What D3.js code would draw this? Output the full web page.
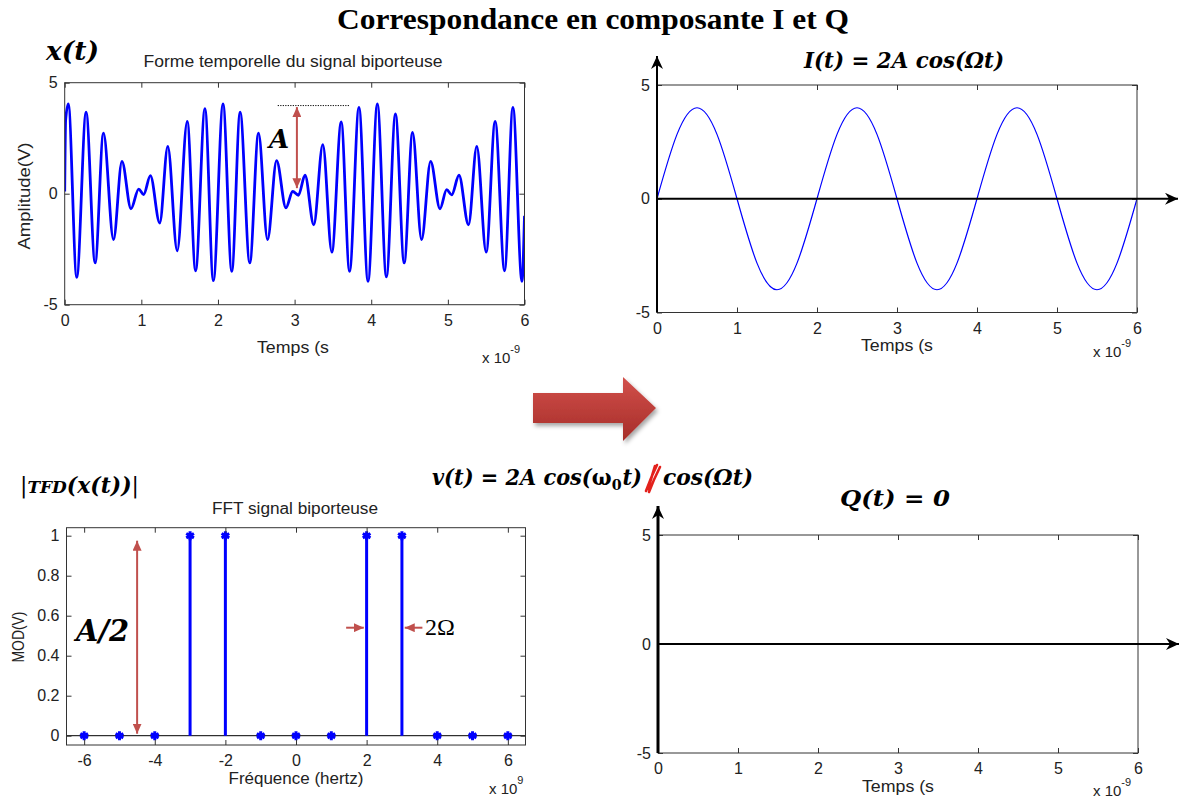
<!DOCTYPE html>
<html>
<head>
<meta charset="utf-8">
<script src="https://cdn.jsdelivr.net/npm/d3@7"></script>
<style>
  body { margin: 0; background: #fff; }
  .ml { font-family: "Liberation Sans", Arial, sans-serif; font-size: 16px; fill: #222; }
  .math { font-family: "DejaVu Serif", "Liberation Serif", serif; font-weight: bold; font-style: italic; fill: #000; }
</style>
</head>
<body>
<div id="graphic"></div>
<script>
// ---- data ----
// x(t): extrema of the two-carrier signal (time in ns, amplitude in V)
const xTime = [0, 0.012, 0.047, 0.157, 0.279, 0.397, 0.506, 0.637, 0.747, 0.865, 0.965, 1.03, 1.118, 1.24, 1.345, 1.468,
  1.599, 1.708, 1.83, 1.94, 2.066, 2.18, 2.289, 2.415, 2.529, 2.647, 2.765, 2.887, 2.975, 3.05, 3.136, 3.25, 3.368, 3.486,
  3.608, 3.717, 3.84, 3.958, 4.08, 4.198, 4.316, 4.43, 4.539, 4.657, 4.775, 4.897, 4.984, 5.05, 5.145, 5.269, 5.377, 5.5,
  5.617, 5.74, 5.849, 5.967, 6.0];
const xAmp = [0.1, 3.3, 4.04, -3.77, 3.67, -3.12, 2.73, -2.07, 1.46, -0.68, 0.21, -0.04, 0.81, -1.32, 2.13, -2.57,
  3.26, -3.47, 3.83, -3.92, 4.04, -3.5, 3.67, -3.12, 2.73, -2.07, 1.49, -0.64, 0.1, -0.07, 0.83, -1.4, 2.21, -2.63,
  3.23, -3.5, 3.89, -3.95, 4.04, -3.75, 3.59, -3.12, 2.76, -2.07, 1.46, -0.68, 0.18, -0.05, 0.83, -1.4, 2.13, -2.63,
  3.26, -3.47, 3.89, -3.95, -1.0];

// I(t): sampled every quarter of a period
const iTime = [0, 0.25, 0.5, 0.75, 1, 1.25, 1.5, 1.75, 2, 2.25, 2.5, 2.75, 3, 3.25, 3.5, 3.75, 4, 4.25, 4.5, 4.75, 5, 5.25, 5.5, 5.75, 6];
const iAmp = [0, 2.83, 4, 2.83, 0, -2.83, -4, -2.83, 0, 2.83, 4, 2.83, 0, -2.83, -4, -2.83, 0, 2.83, 4, 2.83, 0, -2.83, -4, -2.83, 0];

// Q(t)
const qTime = [0, 6];
const qAmp = [0, 0];

// FFT (frequency in GHz)
const fftFreq = [-6, -5, -4, -3, -2, -1, 0, 1, 2, 3, 4, 5, 6];
const fftMod = [0, 0, 0, 1, 1, 0, 0, 0, 1, 1, 0, 0, 0];

// ticks
const timeTicks = [0, 1, 2, 3, 4, 5, 6];
const ampTicks = [-5, 0, 5];
const freqTicks = [-6, -4, -2, 0, 2, 4, 6];
const modTicks = [0, 0.2, 0.4, 0.6, 0.8, 1];

const blue = '#0000ff';
const red = '#c0504d';

const svg = d3.select('#graphic').append('svg')
  .attr('width', 1186).attr('height', 800)
  .style('background', '#fff');
const defs = svg.append('defs');

// arrow heads
function marker(id, color, d, w, h) {
  defs.append('marker').attr('id', id)
    .attr('viewBox', `${-w} ${-h / 2} ${w + 1} ${h}`)
    .attr('refX', 0).attr('refY', 0)
    .attr('markerWidth', w + 1).attr('markerHeight', h)
    .attr('markerUnits', 'userSpaceOnUse')
    .attr('orient', 'auto-start-reverse')
    .append('path').attr('d', d).attr('fill', color);
}
marker('headBlack', '#000', 'M0,0 L-13,-6 L-9,0 L-13,6 Z', 13, 12);
marker('headRed', red, 'M0,0 L-10,-4.5 L-10,4.5 Z', 10, 9);

const grad = defs.append('linearGradient').attr('id', 'redGrad').attr('x1', 0).attr('y1', 0).attr('x2', 0).attr('y2', 1);
grad.append('stop').attr('offset', '0%').attr('stop-color', '#d2504b');
grad.append('stop').attr('offset', '100%').attr('stop-color', '#a62d29');
defs.append('filter').attr('id', 'shadow').attr('x', '-20%').attr('y', '-20%').attr('width', '150%').attr('height', '150%')
  .append('feDropShadow').attr('dx', 2).attr('dy', 3).attr('stdDeviation', 2).attr('flood-color', '#000').attr('flood-opacity', 0.35);

// MATLAB-like axes box with inward ticks on all sides
function drawPanel(p) {
  const x = d3.scaleLinear().domain(p.xDomain).range([p.left, p.right]);
  const y = d3.scaleLinear().domain(p.yDomain).range([p.bottom, p.top]);
  const clipId = 'clip-' + p.id;
  defs.append('clipPath').attr('id', clipId).append('rect')
    .attr('x', p.left).attr('y', p.top).attr('width', p.right - p.left).attr('height', p.bottom - p.top);
  const g = svg.append('g');
  const data = g.append('g').attr('clip-path', `url(#${clipId})`);
  const axes = g.append('g');

  axes.append('g').attr('transform', `translate(0,${p.bottom})`)
    .call(d3.axisBottom(x).tickValues(p.xTicks).tickSize(-5).tickPadding(10).tickFormat(d => String(d)));
  axes.append('g').attr('transform', `translate(0,${p.top})`)
    .call(d3.axisTop(x).tickValues(p.xTicks).tickSize(-5).tickFormat(''));
  axes.append('g').attr('transform', `translate(${p.left},0)`)
    .call(d3.axisLeft(y).tickValues(p.yTicks).tickSize(-5).tickPadding(7).tickFormat(d => String(d)));
  axes.append('g').attr('transform', `translate(${p.right},0)`)
    .call(d3.axisRight(y).tickValues(p.yTicks).tickSize(-5).tickFormat(''));
  axes.selectAll('.domain').remove();
  axes.selectAll('line').attr('stroke', '#333');
  axes.selectAll('text').attr('class', 'ml').attr('fill', null);
  axes.selectAll('g').attr('font-family', null).attr('font-size', null);

  axes.append('rect')
    .attr('x', p.left).attr('y', p.top)
    .attr('width', p.right - p.left).attr('height', p.bottom - p.top)
    .attr('fill', 'none').attr('stroke', '#333').attr('stroke-width', 1);
  return { x, y, data, axes };
}

function xLabel(text, x, y, len) {
  svg.append('text').attr('class', 'ml').attr('x', x).attr('y', y).attr('text-anchor', 'middle')
    .attr('textLength', len).attr('lengthAdjust', 'spacingAndGlyphs').text(text);
}
function yLabel(text, x, y, len) {
  svg.append('text').attr('class', 'ml').attr('text-anchor', 'middle')
    .attr('textLength', len).attr('lengthAdjust', 'spacingAndGlyphs')
    .attr('transform', `translate(${x},${y}) rotate(-90)`).text(text);
}
function exponent(exp, x, y) {
  const t = svg.append('text').attr('class', 'ml').attr('x', x).attr('y', y).style('font-size', '15px');
  t.append('tspan').text('x 10');
  t.append('tspan').attr('dy', -10).style('font-size', '11px').text(exp);
}

// ---------- top-left: x(t) ----------
const pX = drawPanel({ id: 'x', left: 64.7, right: 524.5, top: 82.7, bottom: 304.7,
  xDomain: [0, 6], yDomain: [-5, 5], xTicks: timeTicks, yTicks: ampTicks });
const xPts = xTime.map((t, i) => [t, xAmp[i]]);
pX.data.append('path')
  .attr('d', d3.line().x(d => pX.x(d[0])).y(d => pX.y(d[1])).curve(d3.curveMonotoneX)(xPts))
  .attr('fill', 'none').attr('stroke', blue).attr('stroke-width', 2.8).attr('stroke-linejoin', 'round');
xLabel('Forme temporelle du signal biporteuse', 293, 67, 299);
yLabel('Amplitude(V)', 30, 196, 107);
xLabel('Temps (s', 293, 353, 72);
exponent('-9', 482, 363);

// ---------- top-right: I(t) ----------
const pI = drawPanel({ id: 'i', left: 657, right: 1137, top: 85, bottom: 312.5,
  xDomain: [0, 6], yDomain: [-5, 5], xTicks: timeTicks, yTicks: ampTicks });
const iPts = iTime.map((t, i) => [t, iAmp[i]]);
pI.data.append('path')
  .attr('d', d3.line().x(d => pI.x(d[0])).y(d => pI.y(d[1])).curve(d3.curveNatural)(iPts))
  .attr('fill', 'none').attr('stroke', blue).attr('stroke-width', 1.2);
xLabel('Temps (s', 897, 351, 72);
exponent('-9', 1093, 357);

// ---------- bottom-left: FFT ----------
const pF = drawPanel({ id: 'f', left: 66.5, right: 525.5, top: 527.7, bottom: 745,
  xDomain: [-6.5, 6.5], yDomain: [-0.0465, 1.04], xTicks: freqTicks, yTicks: modTicks });
pF.data.append('line')
  .attr('x1', pF.x.range()[0]).attr('x2', pF.x.range()[1])
  .attr('y1', pF.y(0)).attr('y2', pF.y(0))
  .attr('stroke', '#000').attr('stroke-width', 1);
const fPts = fftFreq.map((f, i) => ({ f, m: fftMod[i] }));
pF.data.selectAll('line.stem').data(fPts.filter(d => d.m > 0)).join('line').attr('class', 'stem')
  .attr('x1', d => pF.x(d.f)).attr('x2', d => pF.x(d.f))
  .attr('y1', pF.y(0)).attr('y2', d => pF.y(d.m))
  .attr('stroke', blue).attr('stroke-width', 3);
pF.data.selectAll('path.mk').data(fPts).join('path').attr('class', 'mk')
  .attr('transform', d => `translate(${pF.x(d.f)},${pF.y(d.m)})`)
  .attr('d', d3.symbol(d3.symbolAsterisk, 55))
  .attr('fill', 'none').attr('stroke', blue).attr('stroke-width', 3);
pF.axes.raise();
xLabel('FFT signal biporteuse', 295, 514, 166);
yLabel('MOD(V)', 24, 637, 51);
xLabel('Fréquence (hertz)', 296, 784, 135);
exponent('9', 489, 794);

// ---------- bottom-right: Q(t) ----------
const pQ = drawPanel({ id: 'q', left: 658, right: 1138, top: 535, bottom: 753,
  xDomain: [0, 6], yDomain: [-5, 5], xTicks: timeTicks, yTicks: ampTicks });
const qPts = qTime.map((t, i) => [t, qAmp[i]]);
pQ.data.append('path')
  .attr('d', d3.line().x(d => pQ.x(d[0])).y(d => pQ.y(d[1]))(qPts))
  .attr('fill', 'none').attr('stroke', blue).attr('stroke-width', 1.5);
xLabel('Temps (s', 898, 792, 72);
exponent('-9', 1093, 796);

// ---------- black axis arrows on the I and Q panels ----------
function axisArrows(p, vWidth) {
  svg.append('line')
    .attr('x1', p.x(0)).attr('y1', p.y(-5)).attr('x2', p.x(0)).attr('y2', p.y(5) - 29)
    .attr('stroke', '#000').attr('stroke-width', vWidth).attr('marker-end', 'url(#headBlack)');
  svg.append('line')
    .attr('x1', p.x(0)).attr('y1', p.y(0)).attr('x2', p.x(6) + 41).attr('y2', p.y(0))
    .attr('stroke', '#000').attr('stroke-width', 2).attr('marker-end', 'url(#headBlack)');
}
axisArrows(pI, 2);
axisArrows(pQ, 3);

// ---------- red annotations ----------
svg.append('line')
  .attr('x1', pX.x(2.78)).attr('x2', pX.x(3.72)).attr('y1', pX.y(3.97)).attr('y2', pX.y(3.97))
  .attr('stroke', '#000').attr('stroke-width', 1).attr('stroke-dasharray', '1.2,1.3');
svg.append('line')
  .attr('x1', pX.x(3.03)).attr('x2', pX.x(3.03)).attr('y1', pX.y(3.9)).attr('y2', pX.y(0.25))
  .attr('stroke', red).attr('stroke-width', 2)
  .attr('marker-start', 'url(#headRed)').attr('marker-end', 'url(#headRed)');
svg.append('text').attr('class', 'math').attr('x', 269).attr('y', 148).style('font-size', '26px').text('A');

svg.append('line')
  .attr('x1', pF.x(-4.5)).attr('x2', pF.x(-4.5)).attr('y1', pF.y(0.975)).attr('y2', pF.y(0.01))
  .attr('stroke', red).attr('stroke-width', 2)
  .attr('marker-start', 'url(#headRed)').attr('marker-end', 'url(#headRed)');
svg.append('text').attr('class', 'math').attr('x', 76).attr('y', 641)
  .attr('textLength', 53).attr('lengthAdjust', 'spacingAndGlyphs').style('font-size', '29px').text('A/2');

svg.append('line')
  .attr('x1', pF.x(1.42)).attr('x2', pF.x(1.92)).attr('y1', pF.y(0.54)).attr('y2', pF.y(0.54))
  .attr('stroke', red).attr('stroke-width', 2).attr('marker-end', 'url(#headRed)');
svg.append('line')
  .attr('x1', pF.x(3.58)).attr('x2', pF.x(3.08)).attr('y1', pF.y(0.54)).attr('y2', pF.y(0.54))
  .attr('stroke', red).attr('stroke-width', 2).attr('marker-end', 'url(#headRed)');
svg.append('text').attr('x', 425).attr('y', 635)
  .style('font-family', '"Liberation Serif", serif').style('font-size', '24px').text('2Ω');

// ---------- titles and formulas ----------
svg.append('text').attr('x', 337).attr('y', 29)
  .attr('textLength', 512).attr('lengthAdjust', 'spacingAndGlyphs')
  .style('font-family', '"Liberation Serif", "Times New Roman", serif').style('font-weight', 'bold').style('font-size', '29px')
  .text('Correspondance en composante I et Q');

svg.append('text').attr('class', 'math').attr('x', 46).attr('y', 60)
  .attr('textLength', 53).attr('lengthAdjust', 'spacingAndGlyphs').style('font-size', '26px').text('x(t)');

svg.append('text').attr('class', 'math').attr('x', 804).attr('y', 68)
  .attr('textLength', 200).attr('lengthAdjust', 'spacingAndGlyphs').style('font-size', '22px').text('I(t) = 2A cos(Ωt)');

svg.append('text').attr('class', 'math').attr('x', 840).attr('y', 506)
  .attr('textLength', 110).attr('lengthAdjust', 'spacingAndGlyphs').style('font-size', '22px').text('Q(t) = 0');

const tfd = svg.append('text').attr('class', 'math').attr('x', 20).attr('y', 493)
  .attr('textLength', 119).attr('lengthAdjust', 'spacingAndGlyphs').style('font-size', '22px');
tfd.append('tspan').style('font-style', 'normal').style('font-weight', 'normal').text('|');
tfd.append('tspan').style('font-size', '17px').text('TFD');
tfd.append('tspan').text('(x(t))');
tfd.append('tspan').style('font-style', 'normal').style('font-weight', 'normal').text('|');

// v(t) formula: pieces laid out one after the other, then squeezed to the reference width
const vPieces = [
  { t: 'v(t) = 2A cos(', size: 22, dy: 0, italic: true },
  { t: 'ω', size: 22, dy: 0, italic: false },
  { t: '0', size: 15, dy: 5, italic: false },
  { t: 't)', size: 22, dy: 0, italic: true }
];
const vg = svg.append('g');
let cx = 0;
vPieces.forEach(p => {
  const t = vg.append('text').attr('class', 'math').attr('x', cx).attr('y', p.dy)
    .style('font-size', p.size + 'px').style('font-style', p.italic ? 'italic' : 'normal').text(p.t);
  cx += t.node().getComputedTextLength() + (p.dy ? 1 : 0);
});
vg.attr('transform', `translate(432,485) scale(${210 / cx},1)`);

svg.append('text').attr('class', 'math').attr('x', 663).attr('y', 485)
  .attr('textLength', 90).attr('lengthAdjust', 'spacingAndGlyphs').style('font-size', '22px').text('cos(Ωt)');
// red scribble striking out the carrier
svg.append('path')
  .attr('d', 'M657,465 C654,471 650,480 646,491 M660,467 C656,475 652,484 649,492 M655,466 L648,489')
  .attr('fill', 'none').attr('stroke', '#e3211c').attr('stroke-width', 2.6).attr('stroke-linecap', 'round');

// big red arrow
svg.append('polygon')
  .attr('points', [[533, 393], [623, 393], [623, 377], [656, 408], [623, 441], [623, 423], [533, 423]].map(p => p.join(',')).join(' '))
  .attr('fill', 'url(#redGrad)').attr('filter', 'url(#shadow)');
</script>
</body>
</html>
